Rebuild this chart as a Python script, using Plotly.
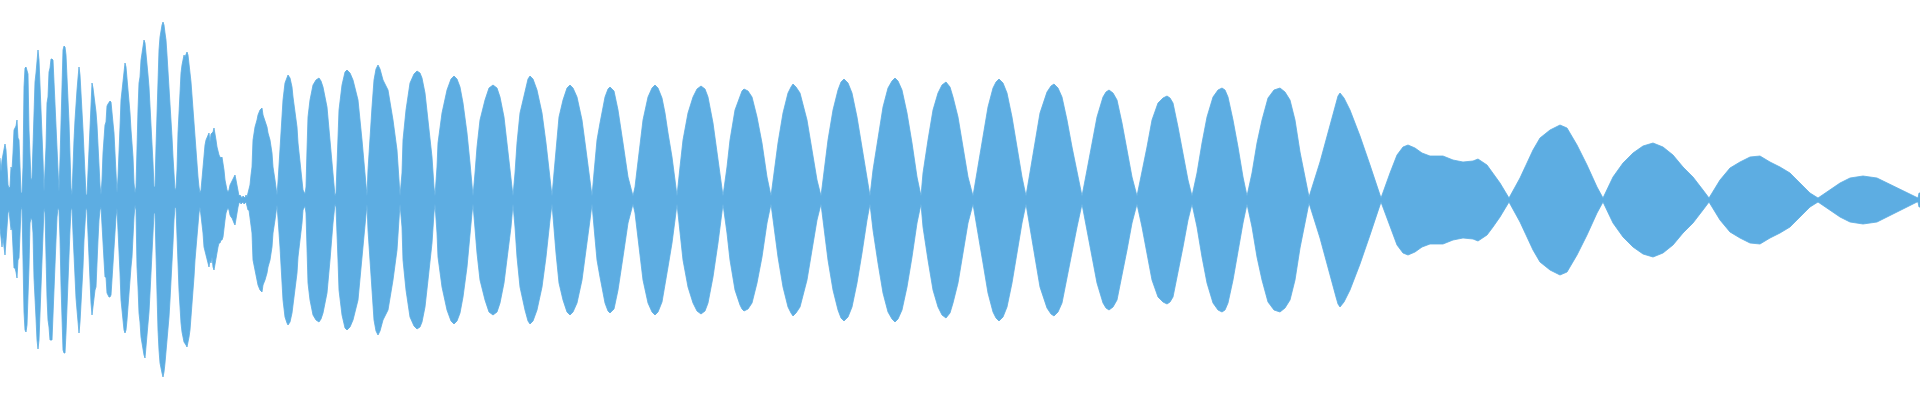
import plotly.graph_objects as go

# ---- data: waveform envelope (amplitude, pixel-scaled units, full scale = 200) ----
# left, noisy part: one value per column, upper and lower envelopes
left_x = list(range(250))
left_top = [42,28,40,47,52,56,50,33,15,12,
 13,33,30,47,70,72,74,80,62,60,
 28,7,7,33,113,132,133,128,126,70,
 42,20,22,60,88,118,127,140,150,140,
 118,97,60,40,8,30,53,97,103,128,
 132,141,141,140,118,97,68,47,18,8,
 40,87,120,150,154,153,145,115,100,78,
 47,12,5,40,60,80,100,110,122,133,
 125,110,90,70,48,22,5,5,30,60,
 82,105,117,112,105,100,88,75,53,33,
 15,5,20,47,60,75,78,94,96,98,
 99,98,90,77,67,47,25,7,23,43,
 73,100,110,123,133,137,133,123,110,100,
 87,70,60,43,17,7,13,70,90,117,
 123,140,147,155,160,157,148,138,125,113,
 97,77,57,37,13,13,53,93,127,150,
 163,170,175,178,175,167,160,145,130,113,
 98,83,63,43,20,10,12,30,67,90,
 110,127,135,140,145,143,147,148,145,138,
 127,118,103,90,77,60,43,33,23,13,
 7,10,23,33,47,55,60,63,65,67,
 58,66,67,68,72,67,60,53,47,45,
 43,42,43,37,30,20,12,10,8,10,
 15,17,18,20,23,25,20,13,7,4,
 5,3,2,4,3,2,5,3,7,12]
left_bot = [28,40,47,37,47,55,40,30,13,10,
 20,30,27,45,68,68,72,78,60,58,
 30,10,7,33,112,130,132,125,108,67,
 23,18,20,33,78,97,118,140,149,140,
 118,97,57,33,8,13,60,97,120,127,
 140,140,140,125,97,67,40,17,8,10,
 38,85,122,150,153,153,133,123,77,60,
 30,10,8,33,57,80,98,110,117,133,
 122,110,90,67,40,20,8,10,30,57,
 83,103,115,110,100,90,87,63,40,20,
 10,7,27,40,60,77,77,93,95,97,
 97,95,77,67,47,33,17,8,23,47,
 73,100,110,122,130,133,130,120,108,98,
 83,67,57,40,17,5,10,67,87,113,
 122,137,143,150,155,158,153,140,123,112,
 93,77,58,37,13,13,53,93,130,150,
 163,168,173,177,172,163,157,143,130,117,
 100,87,67,43,20,7,8,27,63,90,
 108,123,132,137,142,143,145,147,143,137,
 130,120,105,93,77,60,47,33,23,13,
 7,10,23,33,47,53,58,60,63,67,
 60,63,57,67,70,67,60,53,47,43,
 43,40,40,37,30,20,13,10,8,10,
 15,17,18,20,23,25,20,13,7,3,
 2,4,3,2,4,3,2,4,10,10]

# right, smoother part: symmetric envelope at sampled positions (one row per lobe)
right_x = [
 250,251,252,253,255,257,258,260,262,263,265,267,268,270,272,273,275,277,
 278,280,282,283,285,287,288,290,292,293,295,297,298,300,302,303,305,
 306,307,308,310,313,316,319,321,323,327,330,333,335,
 336,338,339,342,345,347,350,353,358,362,365,367,
 368,370,372,374,376,378,380,383,388,393,397,399,400,
 402,403,406,410,414,417,420,422,425,428,432,434,435,
 437,438,442,447,451,454,457,460,463,467,470,472,473,
 475,477,480,485,489,493,497,500,504,507,511,513,
 515,517,520,525,528,530,533,537,542,546,550,552,
 554,556,559,563,567,570,573,577,582,586,590,592,
 594,597,600,605,608,610,614,618,623,628,633,
 635,637,640,643,648,652,655,658,662,665,668,672,675,677,
 680,683,688,693,697,701,705,708,713,718,723,
 727,730,735,740,742,744,748,752,757,762,767,771,
 774,778,783,788,791,793,796,800,807,812,817,821,
 824,828,833,838,841,844,848,852,857,862,867,870,
 873,878,883,888,892,895,898,902,907,912,917,921,
 923,928,933,938,942,946,950,953,958,963,968,973,
 978,983,988,993,996,999,1003,1007,1012,1017,1022,1026,
 1030,1035,1040,1047,1051,1054,1058,1062,1067,1072,1077,1082,
 1087,1092,1097,1103,1106,1109,1113,1117,1122,1127,1132,1137,
 1142,1147,1152,1158,1163,1167,1170,1173,1178,1183,1188,1192,
 1197,1202,1207,1213,1218,1222,1225,1228,1233,1238,1243,1247,
 1252,1257,1262,1268,1274,1280,1285,1290,1295,1300,1305,1309,
 1320,1330,1336,1338,1340,1344,1350,1360,1370,1381,
 1390,1397,1403,1408,1415,1422,1430,1443,1453,1463,1473,1478,1487,1493,1500,1509,
 1520,1533,1540,1550,1560,1567,1577,1587,1597,1603,
 1613,1623,1633,1643,1653,1663,1673,1683,1693,1703,1709,
 1720,1730,1740,1750,1760,1770,1780,1790,1800,1810,1818,
 1830,1840,1850,1863,1877,1887,1897,1907,1917,1918,1919,1920]
right_env = [
 15,25,33,60,73,80,85,90,92,85,80,73,67,60,47,33,20,5,
 18,47,77,100,117,123,125,122,113,103,90,73,57,40,23,10,6,
 13,50,83,100,115,120,122,119,113,93,60,23,4,
 7,60,90,115,128,130,127,120,100,60,27,4,
 30,67,93,120,131,135,131,120,110,80,50,20,4,
 27,60,90,117,126,129,127,122,107,80,43,13,4,
 33,57,87,110,121,124,121,113,97,67,37,13,4,
 27,53,80,100,112,115,112,103,83,57,27,4,
 27,57,87,110,121,124,121,110,87,57,20,4,
 27,53,83,100,112,115,112,103,80,50,20,4,
 27,60,77,103,111,113,109,90,57,23,4,
 13,30,57,80,103,112,115,112,102,87,67,43,20,4,
 33,60,87,103,111,114,111,103,77,43,4,
 33,60,90,105,109,111,109,103,83,57,23,4,
 27,57,87,107,113,116,113,107,80,50,20,4,
 30,60,90,110,118,121,117,107,83,53,20,4,
 30,63,93,112,119,122,119,110,87,57,23,4,
 27,60,90,107,115,118,113,103,83,53,23,4,
 33,63,93,112,118,121,117,107,83,53,23,4,
 27,57,87,108,114,116,112,103,80,53,27,4,
 30,57,83,103,108,110,107,100,77,50,23,4,
 27,53,80,97,102,104,102,97,73,47,20,4,
 27,57,83,103,110,112,110,103,80,53,23,4,
 27,57,80,102,110,112,108,100,80,48,22,3,
 38,75,97,104,107,102,90,64,35,2,
 27,45,53,55,52,47,44,44,40,38,39,41,35,27,17,2,
 22,50,62,70,75,72,55,35,13,2,
 23,37,47,54,57,53,45,33,23,10,2,
 20,32,38,43,44,38,33,27,17,7,2,
 10,17,22,24,22,17,12,7,2,2,7,7]

WAVE_COLOR = "#5DADE2"

n = min(len(right_x), len(right_env))
xs = left_x + right_x[:n]
upper = left_top + right_env[:n]
lower = [-v for v in (left_bot + right_env[:n])]

poly_x = xs + xs[::-1]
poly_y = upper + lower[::-1]

fig = go.Figure(go.Scatter(
    x=poly_x, y=poly_y, mode="lines", fill="toself",
    fillcolor=WAVE_COLOR,
    line=dict(color=WAVE_COLOR, width=0.8),
    hoverinfo="skip",
))

fig.update_layout(
    width=1920, height=400, autosize=False,
    margin=dict(l=0, r=0, t=0, b=0, pad=0),
    paper_bgcolor="white", plot_bgcolor="white",
    showlegend=False,
    xaxis=dict(visible=False, range=[0, 1920], fixedrange=True),
    yaxis=dict(visible=False, range=[-200, 200], fixedrange=True),
)

fig.write_html("out.html", config={"displayModeBar": False},
               post_script="document.body.style.margin='0';")
